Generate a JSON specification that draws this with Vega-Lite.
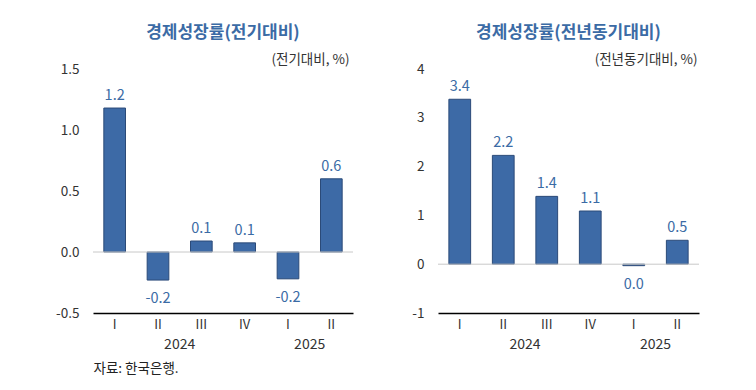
{
  "$schema": "https://vega.github.io/schema/vega-lite/v6.json",
  "padding": {"left": 55, "top": 24, "right": 5, "bottom": 5},
  "background": "white",
  "config": {
    "font": "Noto Sans CJK KR",
    "view": {"stroke": null},
    "title": {"fontSize": 17, "fontWeight": "bold", "color": "#3b6ba5", "anchor": "middle", "offset": 10},
    "axis": {"labelFont": "Noto Sans CJK KR", "titleFont": "Noto Sans CJK KR", "grid": false, "ticks": false}
  },
  "datasets": {
    "qoq": [
      {"q": "2024-I", "value": 1.18, "label": "1.2"},
      {"q": "2024-II", "value": -0.23, "label": "-0.2"},
      {"q": "2024-III", "value": 0.09, "label": "0.1"},
      {"q": "2024-IV", "value": 0.075, "label": "0.1"},
      {"q": "2025-I", "value": -0.22, "label": "-0.2"},
      {"q": "2025-II", "value": 0.6, "label": "0.6"}
    ],
    "yoy": [
      {"q": "2024-I", "value": 3.38, "label": "3.4"},
      {"q": "2024-II", "value": 2.23, "label": "2.2"},
      {"q": "2024-III", "value": 1.39, "label": "1.4"},
      {"q": "2024-IV", "value": 1.09, "label": "1.1"},
      {"q": "2025-I", "value": -0.03, "label": "0.0"},
      {"q": "2025-II", "value": 0.49, "label": "0.5"}
    ],
    "years": [
      {"q": "2024-II", "year": "2024"},
      {"q": "2025-I", "year": "2025"}
    ]
  },
  "spacing": 57,
  "hconcat": [
    {
      "width": 260,
      "height": 244,
      "title": "경제성장률(전기대비)",
      "layer": [
        {
          "data": {"name": "qoq"},
          "mark": {"type": "bar", "color": "#3d6aa6", "stroke": "#2b4a78", "strokeWidth": 1},
          "encoding": {
            "x": {
              "field": "q", "type": "nominal",
              "scale": {"domain": ["2024-I","2024-II","2024-III","2024-IV","2025-I","2025-II"], "paddingInner": 0.5, "paddingOuter": 0.25},
              "axis": {
                "title": "자료:  한국은행.",
                "labelExpr": "split(datum.value, '-')[1]",
                "labelAngle": 0, "labelFontSize": 13, "labelColor": "#333333", "labelPadding": 5,
                "domainColor": "#000000", "domainWidth": 1.5,
                "titleX": 0, "titleY": 55, "titleAlign": "left", "titleBaseline": "middle",
                "titleFontSize": 13.5, "titleFontWeight": "normal", "titleColor": "#222222"
              }
            },
            "y": {
              "field": "value", "type": "quantitative",
              "scale": {"domain": [-0.5, 1.5], "nice": false, "zero": false},
              "axis": {
                "values": [-0.5, 0, 0.5, 1, 1.5],
                "labelExpr": "replace(format(datum.value, '.1f'), '\u2212', '-')",
                "domain": false, "labelFontSize": 13.5, "labelColor": "#333333", "labelPadding": 14,
                "title": "(전기대비, %)", "titleAngle": 0, "titleX": 256, "titleY": -10,
                "titleAlign": "right", "titleBaseline": "middle", "titleFontSize": 13.5,
                "titleFontWeight": "normal", "titleColor": "#333333"
              }
            }
          }
        },
        {
          "data": {"values": [{"z": 0}]},
          "mark": {"type": "rule", "color": "#c8c8c8", "strokeWidth": 1},
          "encoding": {"y": {"field": "z", "type": "quantitative"}}
        },
        {
          "data": {"name": "qoq"},
          "transform": [{"filter": "datum.value >= 0"}],
          "mark": {"type": "text", "fontSize": 14.5, "fontWeight": "normal", "color": "#3b6ba5", "baseline": "middle", "dy": -12},
          "encoding": {
            "x": {"field": "q", "type": "nominal"},
            "y": {"field": "value", "type": "quantitative"},
            "text": {"field": "label"}
          }
        },
        {
          "data": {"name": "qoq"},
          "transform": [{"filter": "datum.value < 0"}],
          "mark": {"type": "text", "fontSize": 14.5, "fontWeight": "normal", "color": "#3b6ba5", "baseline": "middle", "dy": 19},
          "encoding": {
            "x": {"field": "q", "type": "nominal"},
            "y": {"field": "value", "type": "quantitative"},
            "text": {"field": "label"}
          }
        },
        {
          "data": {"name": "years"},
          "mark": {"type": "text", "fontSize": 14, "fontWeight": "normal", "color": "#333333", "baseline": "middle", "dy": 32},
          "encoding": {
            "x": {"field": "q", "type": "nominal", "bandPosition": 1.5},
            "y": {"datum": -0.5},
            "text": {"field": "year"}
          }
        }
      ]
    },
    {
      "width": 261,
      "height": 244,
      "title": "경제성장률(전년동기대비)",
      "layer": [
        {
          "data": {"name": "yoy"},
          "mark": {"type": "bar", "color": "#3d6aa6", "stroke": "#2b4a78", "strokeWidth": 1},
          "encoding": {
            "x": {
              "field": "q", "type": "nominal",
              "scale": {"domain": ["2024-I","2024-II","2024-III","2024-IV","2025-I","2025-II"], "paddingInner": 0.5, "paddingOuter": 0.25},
              "axis": {
                "title": null,
                "labelExpr": "split(datum.value, '-')[1]",
                "labelAngle": 0, "labelFontSize": 13, "labelColor": "#333333", "labelPadding": 5,
                "domainColor": "#000000", "domainWidth": 1.5
              }
            },
            "y": {
              "field": "value", "type": "quantitative",
              "scale": {"domain": [-1, 4], "nice": false, "zero": false},
              "axis": {
                "values": [-1, 0, 1, 2, 3, 4],
                "labelExpr": "replace(format(datum.value, 'd'), '\u2212', '-')",
                "domain": false, "labelFontSize": 13.5, "labelColor": "#333333", "labelPadding": 14,
                "title": "(전년동기대비, %)", "titleAngle": 0, "titleX": 259, "titleY": -10,
                "titleAlign": "right", "titleBaseline": "middle", "titleFontSize": 13.5,
                "titleFontWeight": "normal", "titleColor": "#333333"
              }
            }
          }
        },
        {
          "data": {"values": [{"z": 0}]},
          "mark": {"type": "rule", "color": "#c8c8c8", "strokeWidth": 1},
          "encoding": {"y": {"field": "z", "type": "quantitative"}}
        },
        {
          "data": {"name": "yoy"},
          "transform": [{"filter": "datum.value >= 0"}],
          "mark": {"type": "text", "fontSize": 14.5, "fontWeight": "normal", "color": "#3b6ba5", "baseline": "middle", "dy": -12},
          "encoding": {
            "x": {"field": "q", "type": "nominal"},
            "y": {"field": "value", "type": "quantitative"},
            "text": {"field": "label"}
          }
        },
        {
          "data": {"name": "yoy"},
          "transform": [{"filter": "datum.value < 0"}],
          "mark": {"type": "text", "fontSize": 14.5, "fontWeight": "normal", "color": "#3b6ba5", "baseline": "middle", "dy": 19},
          "encoding": {
            "x": {"field": "q", "type": "nominal"},
            "y": {"field": "value", "type": "quantitative"},
            "text": {"field": "label"}
          }
        },
        {
          "data": {"name": "years"},
          "mark": {"type": "text", "fontSize": 14, "fontWeight": "normal", "color": "#333333", "baseline": "middle", "dy": 32},
          "encoding": {
            "x": {"field": "q", "type": "nominal", "bandPosition": 1.5},
            "y": {"datum": -1},
            "text": {"field": "year"}
          }
        }
      ]
    }
  ]
}
